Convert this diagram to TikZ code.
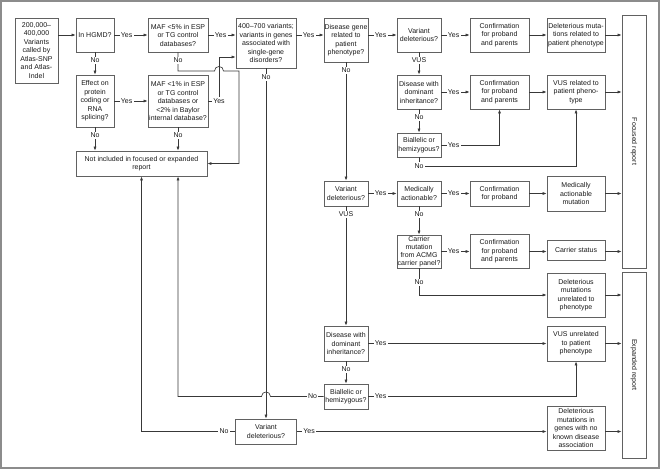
\documentclass[tikz,border=0pt]{standalone}
\usepackage{fontspec}
\setmainfont{Liberation Sans}
\usetikzlibrary{arrows.meta}
\begin{document}
\begin{tikzpicture}[x=1pt,y=-1pt,
  font=\fontsize{7}{8.5}\selectfont,
  box/.style={draw=black!62, line width=0.8pt, inner sep=0pt, align=center, text=black!90},
  sz/.style 2 args={minimum width=#1, minimum height=#2},
  ln/.style={draw=black!78, line width=0.65pt},
  arr/.style={ln, -{Latex[length=4pt,width=3pt]}},
  lab/.style={fill=white, inner sep=1.2pt, text=black!90},
  ylab/.style={lab, anchor=west, xshift=5pt},
  nlab/.style={lab, anchor=north, yshift=-4pt},
  wlab/.style={lab, anchor=east, xshift=-5pt}]
\useasboundingbox (0,0) rectangle (660,469);
\draw[black!45, line width=1.5pt] (1,1) rectangle (659,468);

% nodes
\node[box,sz={43}{65}] (start) at (36.5,50.5) {200,000–\\400,000\\Variants\\called by\\Atlas-SNP\\and Atlas-\\Indel};
\node[box,sz={38}{34}] (hgmd) at (95,35) {In HGMD?};
\node[box,sz={60}{34}] (maf5) at (178,35) {MAF <5\% in ESP\\or TG control\\databases?};
\node[box,sz={38}{52}] (effect) at (95,101) {Effect on\\protein\\coding or\\RNA\\splicing?};
\node[box,sz={60}{52}] (maf1) at (178,101) {MAF <1\% in ESP\\or TG control\\databases or\\<2\% in Baylor\\internal database?};
\node[box,sz={131}{25}] (notinc) at (141.5,163.5) {Not included in focused or expanded\\report};
\node[box,sz={60}{50}] (v400) at (266,43) {400–700 variants;\\variants in genes\\associated with\\single-gene\\disorders?};
\node[box,sz={44}{44}] (dgene) at (346,40) {Disease gene\\related to\\patient\\phenotype?};
\node[box,sz={44}{34}] (vd1) at (419,35) {Variant\\deleterious?};
\node[box,sz={59}{34}] (conf1) at (499.5,35) {Confirmation\\for proband\\and parents};
\node[box,sz={58}{34}] (delrel) at (576,35) {Deleterious muta-\\tions related to\\patient phenotype};
\node[box,sz={24}{253}] (focus) at (634,141.5) {};
\node[rotate=-90, text=black!90] (focustxt) at (focus.center) {Focused report};
\node[box,sz={24}{186}] (expand) at (634,365) {};
\node[rotate=-90, text=black!90] (expandtxt) at (expand.center) {Expanded report};
\node[box,sz={44}{34}] (dom1) at (419,92) {Disease with\\dominant\\inheritance?};
\node[box,sz={59}{34}] (conf2) at (499.5,92) {Confirmation\\for proband\\and parents};
\node[box,sz={58}{34}] (vusrel) at (576,92) {VUS related to\\patient pheno-\\type};
\node[box,sz={44}{24}] (bi1) at (419,145) {Biallelic or\\hemizygous?};
\node[box,sz={44}{25}] (vd2) at (346,193.5) {Variant\\deleterious?};
\node[box,sz={44}{25}] (med) at (419,193.5) {Medically\\actionable?};
\node[box,sz={59}{25}] (conf3) at (499.5,193.5) {Confirmation\\for proband};
\node[box,sz={58}{35}] (mam) at (576,193.5) {Medically\\actionable\\mutation};
\node[box,sz={44}{33},font=\fontsize{7}{7.9}\selectfont] (carrier) at (419,251.5) {Carrier\\mutation\\from ACMG\\carrier panel?};
\node[box,sz={59}{34}] (conf4) at (499.5,251.5) {Confirmation\\for proband\\and parents};
\node[box,sz={58}{20}] (cstat) at (576,250) {Carrier status};
\node[box,sz={58}{44}] (dmu) at (576,295) {Deleterious\\mutations\\unrelated to\\phenotype};
\node[box,sz={44}{35}] (dom2) at (346,343.5) {Disease with\\dominant\\inheritance?};
\node[box,sz={58}{35}] (vusun) at (576,343.5) {VUS unrelated\\to patient\\phenotype};
\node[box,sz={44}{25}] (bi2) at (346,396.5) {Biallelic or\\hemizygous?};
\node[box,sz={61}{25}] (vd3) at (266,431.5) {Variant\\deleterious?};
\node[box,sz={58}{44}] (dnka) at (576,428) {Deleterious\\mutations in\\genes with no\\known disease\\association};

% connectors, top row
\draw[arr] (start.east |- hgmd.west) -- (hgmd.west);
\draw[arr] (hgmd.east) -- node[ylab,at start]{Yes} (maf5.west);
\draw[arr] (maf5.east) -- node[ylab,at start]{Yes} (maf5.east -| v400.west);
\draw[arr] (v400.east |- hgmd.east) -- node[ylab,at start]{Yes} (dgene.west |- hgmd.east);
\draw[arr] (dgene.east |- hgmd.east) -- node[ylab,at start]{Yes} (vd1.west);
\draw[arr] (vd1.east) -- node[ylab,at start]{Yes} (conf1.west);
\draw[arr] (conf1.east) -- (delrel.west);
\draw[arr] (delrel.east) -- (delrel.east -| focus.west);

% left part
\draw[arr] (hgmd.south) -- node[nlab,at start]{No} (effect.north);
\draw[arr] (maf5.south) -- node[nlab,at start]{No} (178,71) -- (214.5,71)
  .. controls (214.5,65) and (223.5,65) .. (223.5,71) -- (239,71) |- (notinc.east);
\draw[arr] (effect.east) -- node[ylab,at start]{Yes} (maf1.west);
\draw[arr] (maf1.east) -- (219,101) node[lab]{Yes} |- (v400.west |- 0,57);
\draw[arr] (effect.south) -- node[nlab,at start]{No} (effect.south |- notinc.north);
\draw[arr] (maf1.south) -- node[nlab,at start]{No} (maf1.south |- notinc.north);
\draw[arr] (v400.south) -- node[nlab,at start,yshift=-1pt]{No} (vd3.north);

% focused part
\draw[arr] (dgene.south) -- node[nlab,at start]{No} (vd2.north);
\draw[arr] (vd1.south) -- node[nlab,at start]{VUS} (dom1.north);
\draw[arr] (dom1.east) -- node[ylab,at start]{Yes} (conf2.west);
\draw[arr] (dom1.south) -- node[nlab,at start]{No} (bi1.north);
\draw[arr] (bi1.east) -| node[ylab,at start]{Yes} (conf2.south);
\draw[arr] (bi1.south) -- (419,166) node[lab]{No} -| (vusrel.south);
\draw[arr] (conf2.east) -- (vusrel.west);
\draw[arr] (vusrel.east) -- (vusrel.east -| focus.west);
\draw[arr] (vd2.east) -- node[ylab,at start]{Yes} (med.west);
\draw[arr] (vd2.south) -- node[nlab,at start]{VUS} (dom2.north);
\draw[arr] (med.east) -- node[ylab,at start]{Yes} (conf3.west);
\draw[arr] (conf3.east) -- (mam.west);
\draw[arr] (mam.east) -- (mam.east -| focus.west);
\draw[arr] (med.south) -- node[nlab,at start]{No} (carrier.north);
\draw[arr] (carrier.east) -- node[ylab,at start]{Yes} (conf4.west);
\draw[arr] (conf4.east) -- (conf4.east -| cstat.west);
\draw[arr] (cstat.east |- conf4.east) -- (conf4.east -| focus.west);
\draw[arr] (carrier.south) -- node[nlab,at start,yshift=-6pt]{No} (419,295) -- (dmu.west);

% expanded part
\draw[arr] (dmu.east) -- (dmu.east -| expand.west);
\draw[arr] (dom2.east) -- node[ylab,at start]{Yes} (vusun.west);
\draw[arr] (vusun.east) -- (vusun.east -| expand.west);
\draw[arr] (dom2.south) -- node[nlab,at start]{No} (bi2.north);
\draw[arr] (bi2.east) -| node[ylab,at start]{Yes} (vusun.south);
\draw[arr] (bi2.west) -- node[wlab,at start]{No} (270.5,396.5)
  .. controls (270.5,390.5) and (261.5,390.5) .. (261.5,396.5)
  -- (maf1.south |- bi2.west) -- (notinc.south -| maf1.south);
\draw[arr] (vd3.west) -- node[wlab,at start]{No} (notinc.south |- vd3.west) -- (notinc.south);
\draw[arr] (vd3.east) -- node[ylab,at start]{Yes} (vd3.east -| dnka.west);
\draw[arr] (dnka.east |- vd3.east) -- (vd3.east -| expand.west);
\end{tikzpicture}
\end{document}
